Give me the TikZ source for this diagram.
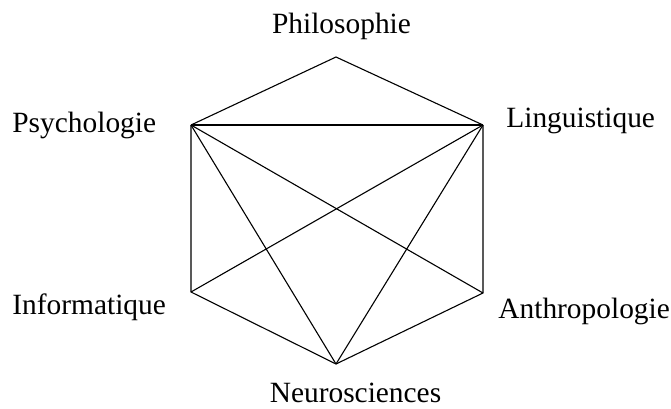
\documentclass[tikz,border=0pt]{standalone}
\usepackage{fontspec}
\setmainfont{Liberation Serif}
\usetikzlibrary{positioning}

\begin{document}
\begin{tikzpicture}[
    x=0.5pt, y=-0.5pt,
    lbl/.style={inner sep=0pt, font=\fontsize{14.7}{17}\selectfont},
    edge/.style={draw=black, line width=0.55pt},
]
\useasboundingbox (0,0) rectangle (671,408);

% corners of the hexagon
\coordinate (phil) at (336, 57);
\coordinate (ling) at (483, 125);
\coordinate (anth) at (483, 293);
\coordinate (neur) at (336, 364);
\coordinate (info) at (191, 292);
\coordinate (psy) at (191, 125);

\node[lbl, anchor=base] (philT) at (341.5, 33) {Philosophie};
\node[lbl, anchor=base west] (psyT) at (12, 132) {Psychologie};
\node[lbl, anchor=base west] (lingT) at (506, 127) {Linguistique};
\node[lbl, anchor=base west] (infoT) at (12, 314) {Informatique};
\node[lbl, anchor=base west] (anthT) at (498, 318) {Anthropologie};
\node[lbl, anchor=base] (neurT) at (355.5, 402) {Neurosciences};

\draw[edge] (psy) -- (phil) -- (ling);
\draw[edge] (psy) -- (ling);
\draw[edge] (psy) -- (info) -- (neur) -- (anth) -- (ling);
\draw[edge] (psy) -- (neur);
\draw[edge] (psy) -- (anth);
\draw[edge] (ling) -- (info);
\draw[edge] (ling) -- (neur);

\end{tikzpicture}
\end{document}
